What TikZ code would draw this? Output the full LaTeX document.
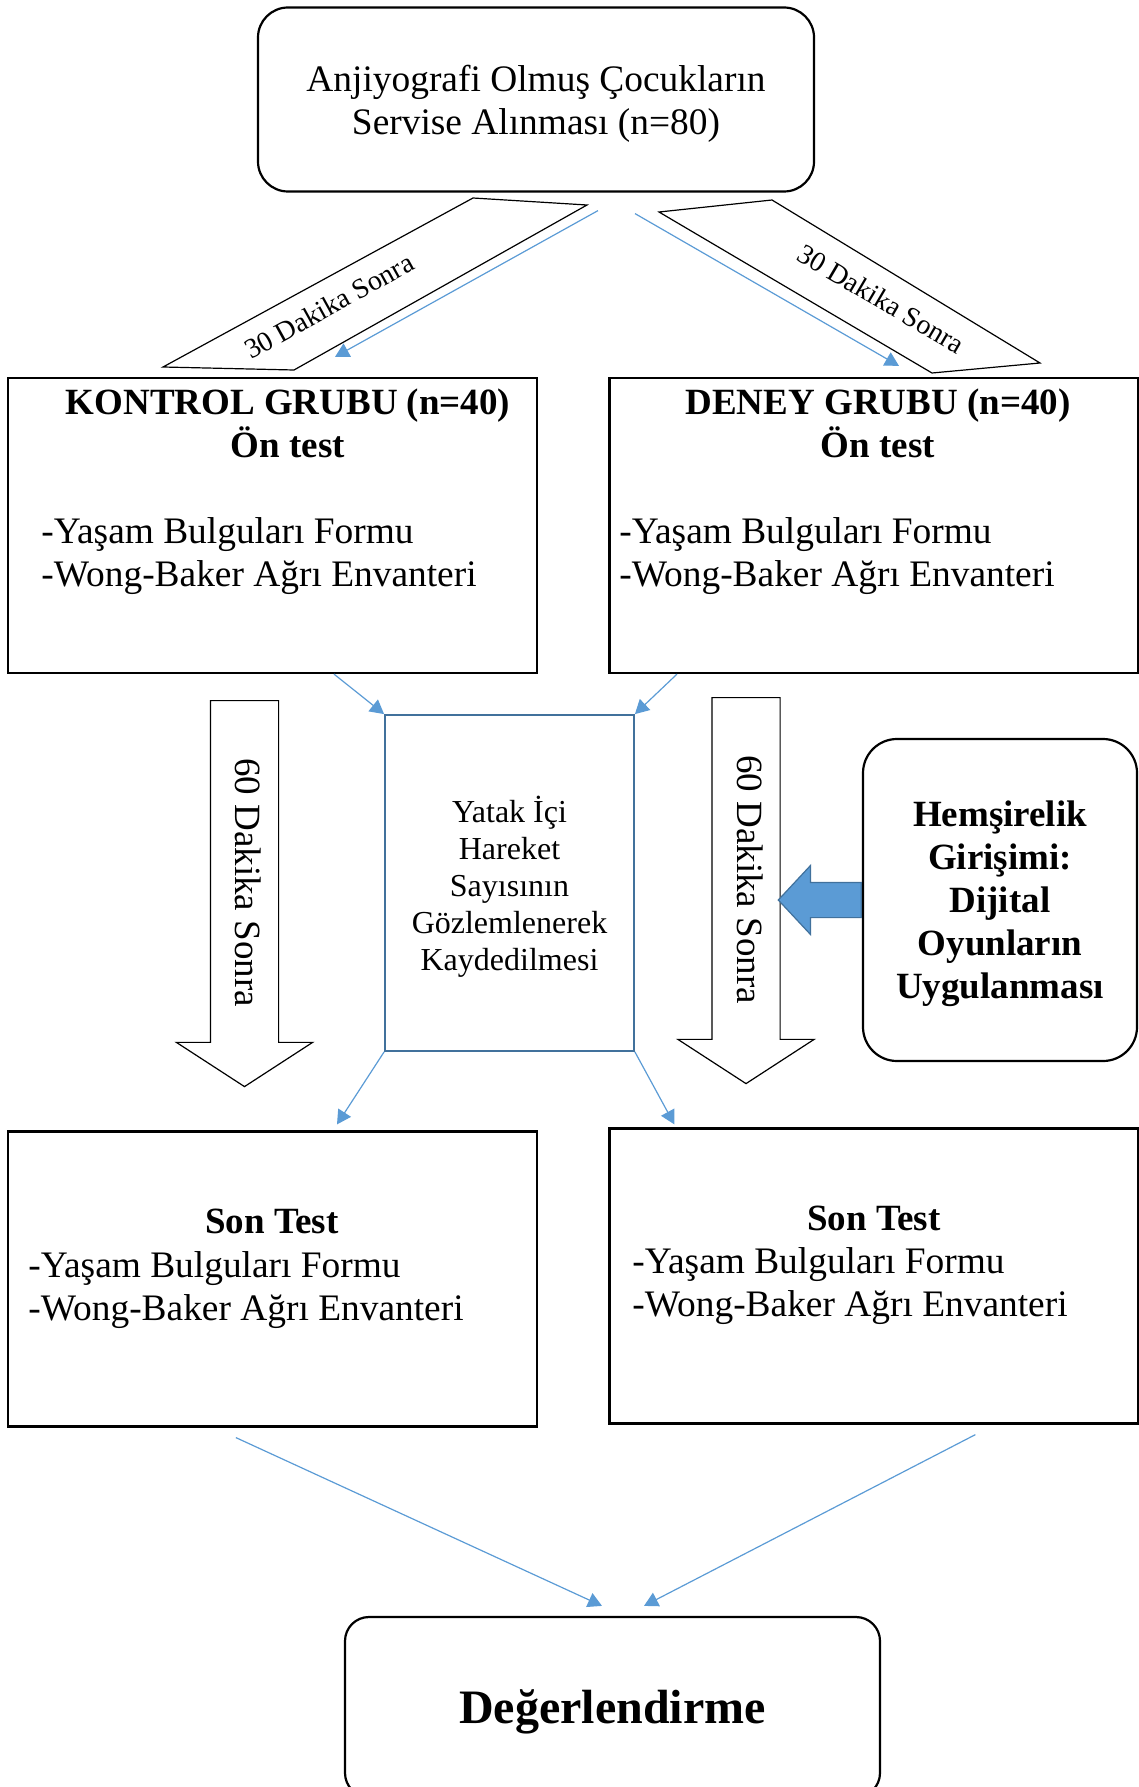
\documentclass[tikz,border=0pt]{standalone}
\usepackage{fontspec}
\setmainfont{Liberation Serif}
\usetikzlibrary{positioning,calc,shapes.arrows,arrows.meta}

\definecolor{linkblue}{RGB}{91,155,213}
\definecolor{edgeblue}{RGB}{65,113,156}

\begin{document}
\begin{tikzpicture}[
    x=0.5pt, y=-0.5pt,
    txt/.style       = {font=\fontsize{18.7}{21.5}\selectfont, inner sep=0pt},
    head/.style      = {txt, font=\fontsize{18.5}{21.5}\selectfont\bfseries, align=center},
    items/.style     = {txt, align=left, anchor=west},
    box/.style       = {draw, line width=1.1pt, minimum width=264.5pt,
                        minimum height=147.5pt, inner sep=0pt},
    roundbox/.style  = {draw, line width=1.1pt, rounded corners=15pt, align=center},
    link/.style      = {-{Triangle[length=7pt,width=7.5pt]}, linkblue, line width=0.6pt},
    lag/.style       = {draw, line width=0.6pt},
    lagtext/.style   = {font=\fontsize{14}{16}\selectfont, inner sep=0pt},
    waitarrow/.style = {single arrow, draw, line width=0.6pt, rotate=-90, anchor=tail,
                        minimum height=193pt, single arrow head extend=17pt,
                        single arrow tip angle=114, text height=13pt, text depth=4pt,
                        inner ysep=8.25pt, inner xsep=4pt,
                        font=\fontsize{18.5}{21.5}\selectfont}
]
\useasboundingbox (0,0) rectangle (1139,1787);

\node[roundbox, txt, minimum width=278pt, minimum height=92pt, text depth=0pt] (start) at (536,99.5)
    {Anjiyografi Olmuş Çocukların\\Servise Alınması (n=80)};

\draw[lag] (163,367) -- (294,370) -- (587,205) -- (473,198) -- cycle;
\node[lagtext, rotate=29] (lagK) at (329,306) {30 Dakika Sonra};
\draw[lag] (659,212) -- (772,200) -- (1040,363) -- (932,373) -- cycle;
\node[lagtext, rotate=-30.5] (lagD) at (881,299) {30 Dakika Sonra};

\node[box] (kontrol) at (272.5,525.5) {};
\node[box] (deney)   at (874,525.5) {};
\node[head]  (kontrolH) at (288,423) {KONTROL GRUBU (n=40)\\Ön test};
\node[head]  (deneyH)   at (878,423) {DENEY GRUBU (n=40)\\Ön test};
\node[items] (kontrolL) at (41,556) {-Yaşam Bulguları Formu\\-Wong-Baker Ağrı Envanteri};
\node[items] (deneyL)   at (619,556) {-Yaşam Bulguları Formu\\-Wong-Baker Ağrı Envanteri};

\node[draw=edgeblue, line width=0.9pt, minimum width=124.5pt, minimum height=168pt,
      align=center, inner sep=0pt, text depth=0pt, font=\fontsize{16}{18.5}\selectfont]
    (yatak) at (509.5,883) {Yatak İçi\\Hareket\\Sayısının\\Gözlemlenerek\\Kaydedilmesi};

\node[waitarrow] (waitK) at (244.5,700) {60 Dakika Sonra};
\node[waitarrow] (waitD) at (746,697) {60 Dakika Sonra};

\node[roundbox, head, rounded corners=17pt, minimum width=137pt, minimum height=161pt,
      text depth=-1.5pt] (girisim) at (1000,900)
    {Hemşirelik\\Girişimi:\\Dijital\\Oyunların\\Uygulanması};
\node[single arrow, draw=edgeblue, fill=linkblue, line width=0.6pt, rotate=180, anchor=tail,
      minimum height=41.5pt, inner xsep=0pt, inner ysep=8.5pt, text height=0pt, text depth=0pt,
      single arrow head extend=8.5pt, single arrow tip angle=94] (play) at (girisim.west) {};

\node[box] (sonK) at (272.5,1279) {};
\node[box] (sonD) at (874,1276) {};
\node[head]  (sonKH) at (272,1221) {Son Test};
\node[items] (sonKL) at (28,1290.5) {-Yaşam Bulguları Formu\\-Wong-Baker Ağrı Envanteri};
\node[head]  (sonDH) at (874,1218) {Son Test};
\node[items] (sonDL) at (632,1286) {-Yaşam Bulguları Formu\\-Wong-Baker Ağrı Envanteri};

\node[roundbox, rounded corners=12pt, minimum width=267.5pt, minimum height=90pt, text depth=0pt,
      font=\fontsize{24}{28}\selectfont\bfseries] (deger) at (612.5,1707) {Değerlendirme};

\draw[link] ($(start.south)+(62,18)$)   -- ($(kontrol.north)+(62.5,-20)$);
\draw[link] ($(start.south)+(99,21)$)   -- ($(deney.north)+(25,-11)$);
\draw[link] ($(kontrol.south)+(61.5,0)$) -- (yatak.north west);
\draw[link] ($(deney.south)+(-197,0)$)  -- (yatak.north east);
\draw[link] (yatak.south west) -- ($(sonK.north)+(64.5,-6)$);
\draw[link] (yatak.south east) -- ($(sonD.north west)+(66,-3)$);
\draw[link] ($(sonK.south west)+(229,10)$) -- ($(deger.north)+(-10.5,-10)$);
\draw[link] ($(sonD.south west)+(367,10)$) -- ($(deger.north)+(31.5,-10)$);

\end{tikzpicture}
\end{document}
